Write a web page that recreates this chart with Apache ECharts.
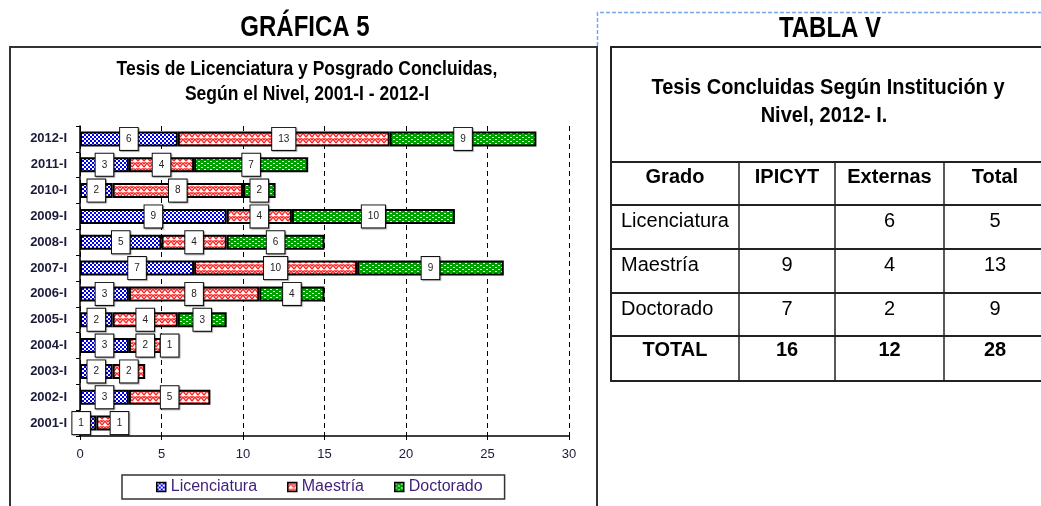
<!DOCTYPE html>
<html>
<head>
<meta charset="utf-8">
<title>Gráfica 5 - Tabla V</title>
<script src="https://cdn.jsdelivr.net/npm/echarts@6/dist/echarts.min.js"></script>
<style>
  html, body { margin: 0; padding: 0; background: #fff; }
  #main { width: 1041px; height: 506px; }
</style>
</head>
<body>
<div id="main"></div>
<script>
// datos de la grafica (2001-I abajo, 2012-I arriba)
var periodos = ['2001-I', '2002-I', '2003-I', '2004-I', '2005-I', '2006-I',
                '2007-I', '2008-I', '2009-I', '2010-I', '2011-I', '2012-I'];
var licenciatura = [1, 3, 2, 3, 2, 3, 7, 5, 9, 2, 3, 6];
var maestria     = [1, 5, 2, 2, 4, 8, 10, 4, 4, 8, 4, 13];
var doctorado    = [0, 0, 0, 1, 3, 4, 9, 6, 10, 2, 7, 9];
var niveles = ['Licenciatura', 'Maestría', 'Doctorado'];
var ejeX = [0, 30, 5]; // min, max, intervalo

// datos de la tabla V
var tablaTitulo = ['Tesis Concluidas Según Institución y', 'Nivel, 2012- I.'];
var tablaEncabezado = ['Grado', 'IPICYT', 'Externas', 'Total'];
var tablaFilas = [
  ['Licenciatura', '', '6', '5'],
  ['Maestría', '9', '4', '13'],
  ['Doctorado', '7', '2', '9']
];
var tablaTotal = ['TOTAL', '16', '12', '28'];

var SANS = '"Liberation Sans", Arial, sans-serif';

// tramas de relleno tipo excel
function trama(w, h, draw) {
  var c = document.createElement('canvas');
  c.width = w; c.height = h;
  draw(c.getContext('2d'));
  return { image: c, repeat: 'repeat' };
}
var tramaAzul = trama(4, 4, function (g) {
  g.fillStyle = '#0000f0'; g.fillRect(0, 0, 4, 4);
  g.fillStyle = '#ffffff'; g.fillRect(0, 0, 2, 2); g.fillRect(2, 2, 2, 2);
});
var tramaRoja = trama(6, 6, function (g) {
  g.fillStyle = '#ffffff'; g.fillRect(0, 0, 6, 6);
  g.strokeStyle = '#ff2020'; g.lineWidth = 1.3;
  g.beginPath();
  g.moveTo(0, 5); g.lineTo(3, 1); g.lineTo(6, 5);
  g.moveTo(0, 2); g.lineTo(1.5, 0);
  g.moveTo(4.5, 0); g.lineTo(6, 2);
  g.stroke();
});
var tramaVerde = trama(6, 4, function (g) {
  g.fillStyle = '#00a000'; g.fillRect(0, 0, 6, 4);
  g.fillStyle = '#ffffff'; g.fillRect(0, 1, 2, 1); g.fillRect(3, 3, 2, 1);
});
var tramas = [tramaAzul, tramaRoja, tramaVerde];

// desplazamiento de etiquetas que se enciman (serie -> indice -> [dx, dy])
var ajusteEtiqueta = { 0: { 0: [-7, 0] }, 1: { 0: [15, 0] } };

function serie(k, valores) {
  return {
    name: niveles[k],
    type: 'bar',
    stack: 'total',
    barWidth: 15,
    data: valores.map(function (v, i) {
      if (v === 0) return '-';
      var aj = ajusteEtiqueta[k] && ajusteEtiqueta[k][i];
      return aj ? { value: v, label: { offset: aj } } : v;
    }),
    itemStyle: { color: tramas[k], borderColor: '#000', borderWidth: 2 },
    label: {
      show: true,
      position: 'inside',
      color: '#222',
      fontFamily: SANS,
      fontSize: 10,
      backgroundColor: '#fff',
      borderColor: '#111',
      borderWidth: 1,
      padding: [6, 6, 6, 6],
      shadowColor: 'rgba(0,0,0,0.35)',
      shadowOffsetX: 1,
      shadowOffsetY: 1,
      shadowBlur: 1
    }
  };
}

// tabla y titulos como elementos graficos
var colX = [611, 739, 835, 944, 1046];
var filaY = [47, 162, 205, 249, 293, 336, 381];
var graficos = [];

function texto(t, x, y, font, align, sy) {
  graficos.push({
    type: 'text',
    x: x, y: y, scaleY: sy || 1,
    style: { text: t, x: 0, y: 0, font: font, fill: '#000',
             textAlign: align || 'center', textVerticalAlign: 'middle' }
  });
}
function linea(x1, y1, x2, y2, w) {
  graficos.push({
    type: 'line',
    shape: { x1: x1, y1: y1, x2: x2, y2: y2 },
    style: { stroke: '#222', lineWidth: w || 2 }
  });
}

// marco de la grafica y titulos
graficos.push({
  type: 'rect',
  shape: { x: 10, y: 47, width: 587, height: 480 },
  style: { fill: 'none', stroke: '#333', lineWidth: 2 }
});
texto('GRÁFICA 5', 305, 28, 'bold 24px ' + SANS, 'center', 1.22);
texto('Tesis de Licenciatura y Posgrado Concluidas,', 307, 70, 'bold 17.5px ' + SANS, 'center', 1.12);
texto('Según el Nivel, 2001-I - 2012-I', 307, 95, 'bold 17.5px ' + SANS, 'center', 1.12);

// recuadro punteado azul
graficos.push({
  type: 'polyline',
  shape: { points: [[597.5, 46], [597.5, 12.5], [1045, 12.5]] },
  style: { fill: 'none', stroke: '#7aa7ec', lineWidth: 1.5, lineDash: [4, 2] }
});
texto('TABLA V', 830, 29, 'bold 24px ' + SANS, 'center', 1.25);

// lineas de la tabla
graficos.push({
  type: 'rect',
  shape: { x: colX[0], y: filaY[0], width: colX[4] - colX[0], height: filaY[6] - filaY[0] },
  style: { fill: 'none', stroke: '#222', lineWidth: 2 }
});
for (var i = 1; i < filaY.length - 1; i++) linea(colX[0], filaY[i], colX[4], filaY[i], 2);
for (var j = 1; j < colX.length - 1; j++) linea(colX[j], filaY[1], colX[j], filaY[6], 1.5);

var centro = function (k) { return (colX[k] + colX[k + 1]) / 2; };
texto(tablaTitulo[0], 828, 88, 'bold 20px ' + SANS, 'center', 1.12);
texto(tablaTitulo[1], 824, 116, 'bold 20px ' + SANS, 'center', 1.12);
tablaEncabezado.forEach(function (t, k) {
  texto(t, centro(k), filaY[1] + 15, 'bold 20px ' + SANS, 'center', 1.05);
});
tablaFilas.forEach(function (fila, r) {
  fila.forEach(function (t, k) {
    if (k === 0) texto(t, colX[0] + 10, filaY[r + 2] + 16, '20px ' + SANS, 'left', 1.05);
    else texto(t, centro(k), filaY[r + 2] + 16, '20px ' + SANS, 'center', 1.05);
  });
});
tablaTotal.forEach(function (t, k) {
  texto(t, centro(k), filaY[5] + 14, 'bold 20px ' + SANS, 'center', 1.05);
});

var chart = echarts.init(document.getElementById('main'));
chart.setOption({
  animation: false,
  backgroundColor: '#fff',
  grid: { left: 80, right: 472, top: 126, bottom: 70, outerBoundsMode: 'none' },
  legend: {
    data: niveles,
    left: 122,
    top: 475,
    icon: 'rect',
    itemWidth: 9,
    itemHeight: 9,
    itemGap: 30,
    padding: [4, 22, 4, 34],
    borderColor: '#333',
    borderWidth: 1.5,
    itemStyle: { borderWidth: 1.5 },
    textStyle: { fontFamily: SANS, fontSize: 16, color: '#3c1f78' }
  },
  xAxis: {
    type: 'value',
    min: ejeX[0],
    max: ejeX[1],
    interval: ejeX[2],
    axisLine: { show: true, lineStyle: { color: '#000', width: 1.5 } },
    axisTick: { show: true, length: 4, lineStyle: { color: '#000' } },
    axisLabel: { color: '#1a1a3a', fontFamily: SANS, fontSize: 13, margin: 12 },
    splitLine: { show: true, lineStyle: { color: '#000', type: [5, 4], width: 1 } }
  },
  yAxis: {
    type: 'category',
    data: periodos,
    axisLine: { show: true, lineStyle: { color: '#000', width: 1.5 } },
    axisTick: { show: true, length: 4, lineStyle: { color: '#000' } },
    axisLabel: { color: '#1a1a3a', fontFamily: SANS, fontWeight: 'bold', fontSize: 13, margin: 13 }
  },
  series: [
    serie(0, licenciatura),
    serie(1, maestria),
    serie(2, doctorado)
  ],
  graphic: graficos
});
</script>
</body>
</html>
